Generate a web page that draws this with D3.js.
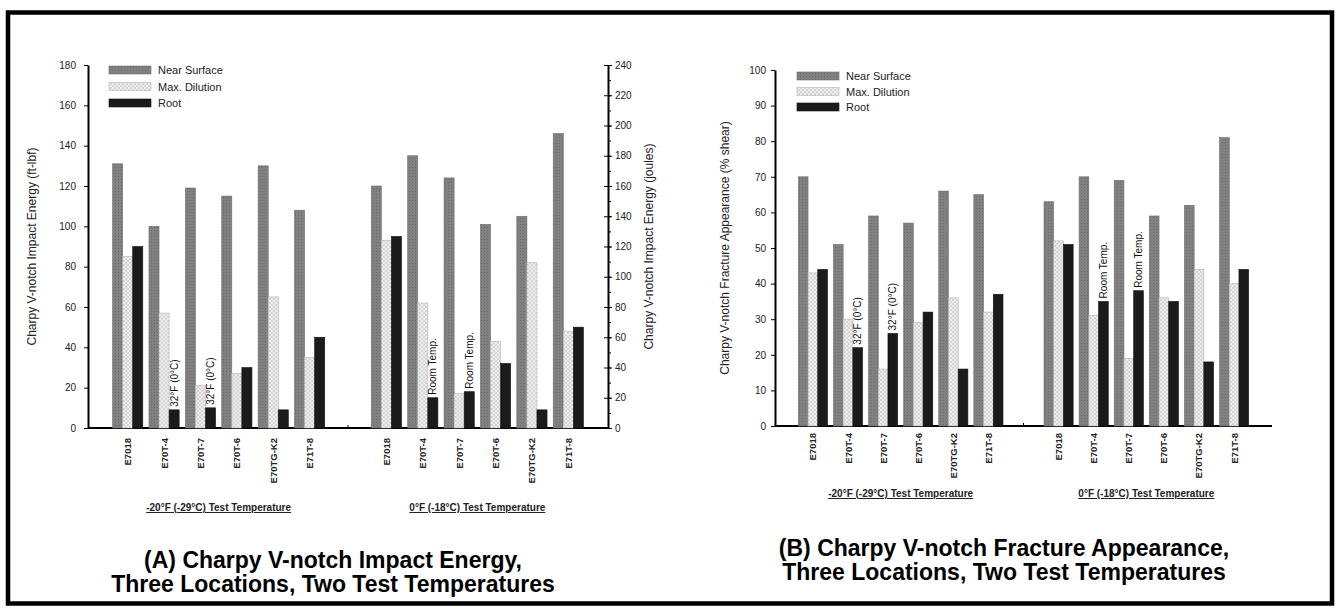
<!DOCTYPE html>
<html>
<head>
<meta charset="utf-8">
<script src="https://cdn.jsdelivr.net/npm/d3@7"></script>
<style>
    body { margin: 0; background: #fff; }
    svg text { font-family: "Liberation Sans", Arial, sans-serif; }
</style>
</head>
<body>
<div id="chart-area"></div>
<script>
// categories
const materials = ["E7018", "E70T-4", "E70T-7", "E70T-6", "E70TG-K2", "E71T-8"];
const testTemps = ["-20°F (-29°C) Test Temperature", "0°F (-18°C) Test Temperature"];
const locations = ["Near Surface", "Max. Dilution", "Root"];

// (A) impact energy, ft-lbf  [ -20°F , 0°F ]
const energyNearSurface = [[131, 100, 119, 115, 130, 108], [120, 135, 124, 101, 105, 146]];
const energyMaxDilution = [[85, 57, 21, 27, 65, 35], [93, 62, 17, 43, 82, 48]];
const energyRoot = [[90, 9, 10, 30, 9, 45], [95, 15, 18, 32, 9, 50]];

// (B) fracture appearance, % shear  [ -20°F , 0°F ]
const shearNearSurface = [[70, 51, 59, 57, 66, 65], [63, 70, 69, 59, 62, 81]];
const shearMaxDilution = [[43, 30, 16, 29, 36, 32], [52, 31, 19, 36, 44, 40]];
const shearRoot = [[44, 22, 26, 32, 16, 37], [51, 35, 38, 35, 18, 44]];

// tick labels
const energyTicks = [0, 20, 40, 60, 80, 100, 120, 140, 160, 180];
const jouleTicks = [0, 20, 40, 60, 80, 100, 120, 140, 160, 180, 200, 220, 240];
const shearTicks = [0, 10, 20, 30, 40, 50, 60, 70, 80, 90, 100];

// notes written above some root bars
const barNotes = [
    {temp: 0, material: "E70T-4", text: "32°F (0°C)"},
    {temp: 0, material: "E70T-7", text: "32°F (0°C)"},
    {temp: 1, material: "E70T-4", text: "Room Temp."},
    {temp: 1, material: "E70T-7", text: "Room Temp."}
];

const svg = d3.select("#chart-area").append("svg")
    .attr("width", 1339)
    .attr("height", 614);

// patterns for the three locations
const defs = svg.append("defs");
let pNs = defs.append("pattern").attr("id", "pat-ns")
    .attr("width", 3).attr("height", 3).attr("patternUnits", "userSpaceOnUse");
pNs.append("rect").attr("width", 3).attr("height", 3).attr("fill", "#818181");
pNs.append("rect").attr("width", 1).attr("height", 1).attr("fill", "#6a6a6a");
let pMd = defs.append("pattern").attr("id", "pat-md")
    .attr("width", 4).attr("height", 4).attr("patternUnits", "userSpaceOnUse");
pMd.append("rect").attr("width", 4).attr("height", 4).attr("fill", "#eeeeee");
pMd.append("path").attr("d", "M0,0L4,4M4,0L0,4").attr("stroke", "#c9c9c9").attr("stroke-width", 0.7);

const locationFill = {"Near Surface": "url(#pat-ns)", "Max. Dilution": "url(#pat-md)", "Root": "#1b1b1b"};
const locationStroke = {"Near Surface": "#6e6e6e", "Max. Dilution": "#b5b5b5", "Root": "#111"};

// frame
svg.append("rect")
    .attr("x", 8).attr("y", 12.5)
    .attr("width", 1324).attr("height", 591)
    .attr("fill", "none")
    .attr("stroke", "#000")
    .attr("stroke-width", 4.5);

class GroupedBarChart {

    constructor(svg, config){
        this.svg = svg;
        this.config = config;
        this.initVis();
    }

    initVis(){
        let vis = this;
        let c = vis.config;

        vis.g = vis.svg.append("g")
            .attr("transform", `translate(${c.left}, ${c.top})`);

        vis.x0 = d3.scaleBand()
            .domain(testTemps)
            .range([0, c.width])
            .paddingInner(c.clusterGap)
            .paddingOuter(c.clusterOuter);

        vis.x1 = d3.scaleBand()
            .domain(materials)
            .range([0, vis.x0.bandwidth()])
            .paddingInner(0.17);

        vis.x2 = d3.scaleBand()
            .domain(locations)
            .range([0, vis.x1.bandwidth()]);

        vis.y = d3.scaleLinear()
            .domain(c.yDomain)
            .range([c.height, 0]);

        vis.yAxis = d3.axisLeft(vis.y)
            .tickValues(c.yTicks)
            .tickSize(4)
            .tickSizeOuter(0)
            .tickPadding(c.tickPadding);

        vis.g.append("g")
            .attr("class", "y-axis axis")
            .call(vis.yAxis);

        if (c.rightTicks) {
            vis.y2 = d3.scaleLinear()
                .domain(c.rightDomain)
                .range([c.height, 0]);
            // minor ticks
            vis.g.append("g")
                .attr("transform", `translate(${c.width}, 0)`)
                .call(d3.axisRight(vis.y2).ticks(24).tickSize(3).tickFormat(""))
                .call(g => g.select(".domain").remove());
            vis.g.append("g")
                .attr("class", "y2-axis axis")
                .attr("transform", `translate(${c.width}, 0)`)
                .call(d3.axisRight(vis.y2).tickValues(c.rightTicks).tickSize(4).tickSizeOuter(0).tickPadding(3))
                .call(g => g.selectAll(".tick line").attr("x1", -4));
            vis.g.append("text")
                .attr("transform", `translate(${c.width + 45}, ${c.height / 2}) rotate(-90)`)
                .attr("text-anchor", "middle")
                .attr("font-size", 12)
                .attr("fill", "#222")
                .text(c.rightLabel);
        }

        vis.g.selectAll(".axis path").attr("stroke", "#000").attr("stroke-width", 2);
        vis.g.selectAll(".axis line").attr("stroke", "#000");
        vis.g.selectAll(".axis text").attr("font-size", 10).attr("fill", "#222")
            .attr("font-family", "Liberation Sans, Arial, sans-serif");

        // y label
        vis.g.append("text")
            .attr("transform", `translate(${c.yLabelX}, ${c.height / 2}) rotate(-90)`)
            .attr("text-anchor", "middle")
            .attr("font-size", c.yLabelSize)
            .attr("fill", "#222")
            .text(c.yLabel);

        // baseline
        vis.g.append("line")
            .attr("x1", 0).attr("x2", c.width)
            .attr("y1", c.height).attr("y2", c.height)
            .attr("stroke", "#000").attr("stroke-width", 2);

        // small tick between the two clusters
        let mid = (vis.x0(testTemps[0]) + vis.x0.bandwidth() + vis.x0(testTemps[1])) / 2;
        vis.g.append("line")
            .attr("x1", mid).attr("x2", mid)
            .attr("y1", c.height - 3).attr("y2", c.height)
            .attr("stroke", "#000");

        // legend
        let legend = vis.g.append("g")
            .attr("transform", `translate(${c.legendX}, ${c.legendY})`);
        locations.forEach((loc, i) => {
            legend.append("rect")
                .attr("x", 0).attr("y", i * c.legendStep - 4)
                .attr("width", 42).attr("height", 8)
                .attr("fill", locationFill[loc])
                .attr("stroke", locationStroke[loc])
                .attr("stroke-width", 0.6);
            legend.append("text")
                .attr("x", 49).attr("y", i * c.legendStep + 4)
                .attr("font-size", 11)
                .attr("fill", "#222")
                .text(loc);
        });

        // title
        let title = vis.svg.append("text")
            .attr("text-anchor", "middle")
            .attr("font-size", 23)
            .attr("font-weight", "bold")
            .attr("fill", "#000");
        c.title.forEach((line, i) => {
            title.append("tspan")
                .attr("x", c.titleX)
                .attr("y", c.titleY + i * 23.5)
                .text(line);
        });

        this.wrangleData();
    }

    wrangleData(){
        let vis = this;
        let c = vis.config;
        vis.displayData = [];
        testTemps.forEach((t, ti) => {
            materials.forEach((m, mi) => {
                locations.forEach((loc, li) => {
                    vis.displayData.push({temp: t, material: m, location: loc, value: c.series[li][ti][mi]});
                });
            });
        });
        vis.updateVis();
    }

    updateVis(){
        let vis = this;
        let c = vis.config;
        let xPos = d => vis.x0(d.temp) + vis.x1(d.material) + vis.x2(d.location);

        vis.g.selectAll(".bar")
            .data(vis.displayData)
            .join("rect")
            .attr("class", "bar")
            .attr("x", d => xPos(d))
            .attr("y", d => vis.y(d.value))
            .attr("width", vis.x2.bandwidth())
            .attr("height", d => c.height - vis.y(d.value))
            .attr("fill", d => locationFill[d.location])
            .attr("stroke", d => locationStroke[d.location])
            .attr("stroke-width", 0.6);

        // material labels
        testTemps.forEach(t => {
            vis.g.selectAll(null)
                .data(materials)
                .join("text")
                .attr("transform", m => `translate(${vis.x0(t) + vis.x1(m) + vis.x1.bandwidth() / 2 + 3.5}, ${c.height + c.matLabelGap}) rotate(-90)`)
                .attr("text-anchor", "end")
                .attr("font-size", 9.5)
                .attr("font-weight", "bold")
                .attr("fill", "#222")
                .text(m => m);
        });

        // cluster labels
        vis.g.selectAll(".cluster-label")
            .data(testTemps)
            .join("text")
            .attr("class", "cluster-label")
            .attr("x", t => vis.x0(t) + vis.x0.bandwidth() / 2)
            .attr("y", c.height + c.clusterLabelGap)
            .attr("text-anchor", "middle")
            .attr("font-size", 10)
            .attr("font-weight", "bold")
            .attr("fill", "#222")
            .style("text-decoration", "underline")
            .text(t => t);

        // notes above root bars
        vis.g.selectAll(".note")
            .data(barNotes)
            .join("text")
            .attr("class", "note")
            .attr("transform", n => {
                let root = c.series[2][n.temp][materials.indexOf(n.material)];
                let cx = vis.x0(testTemps[n.temp]) + vis.x1(n.material) + vis.x2("Root") + vis.x2.bandwidth() / 2 + 3.5;
                return `translate(${cx}, ${vis.y(root) - 3}) rotate(-90)`;
            })
            .attr("font-size", 10)
            .attr("fill", "#111")
            .text(n => n.text);
    }
}

let chartA = new GroupedBarChart(svg, {
    left: 88, top: 65, width: 520, height: 363,
    yDomain: [0, 180], yTicks: energyTicks, tickPadding: 8,
    rightDomain: [0, 240], rightTicks: jouleTicks,
    rightLabel: "Charpy V-notch Impact Energy (joules)",
    yLabel: "Charpy V-notch Impact Energy (ft-lbf)", yLabelX: -52, yLabelSize: 12,
    clusterGap: 0.18, clusterOuter: 0.095,
    legendX: 21, legendY: 5, legendStep: 16.5,
    matLabelGap: 10, clusterLabelGap: 83,
    series: [energyNearSurface, energyMaxDilution, energyRoot],
    title: ["(A) Charpy V-notch Impact Energy,", "Three Locations, Two Test Temperatures"],
    titleX: 333, titleY: 568
});

let chartB = new GroupedBarChart(svg, {
    left: 775, top: 70, width: 497, height: 356,
    yDomain: [0, 100], yTicks: shearTicks, tickPadding: 5,
    yLabel: "Charpy V-notch Fracture Appearance (% shear)", yLabelX: -46, yLabelSize: 12,
    clusterGap: 0.167, clusterOuter: 0.095,
    legendX: 22, legendY: 6, legendStep: 15.5,
    matLabelGap: 7, clusterLabelGap: 71,
    series: [shearNearSurface, shearMaxDilution, shearRoot],
    title: ["(B) Charpy V-notch Fracture Appearance,", "Three Locations, Two Test Temperatures"],
    titleX: 1004, titleY: 556
});
</script>
</body>
</html>
